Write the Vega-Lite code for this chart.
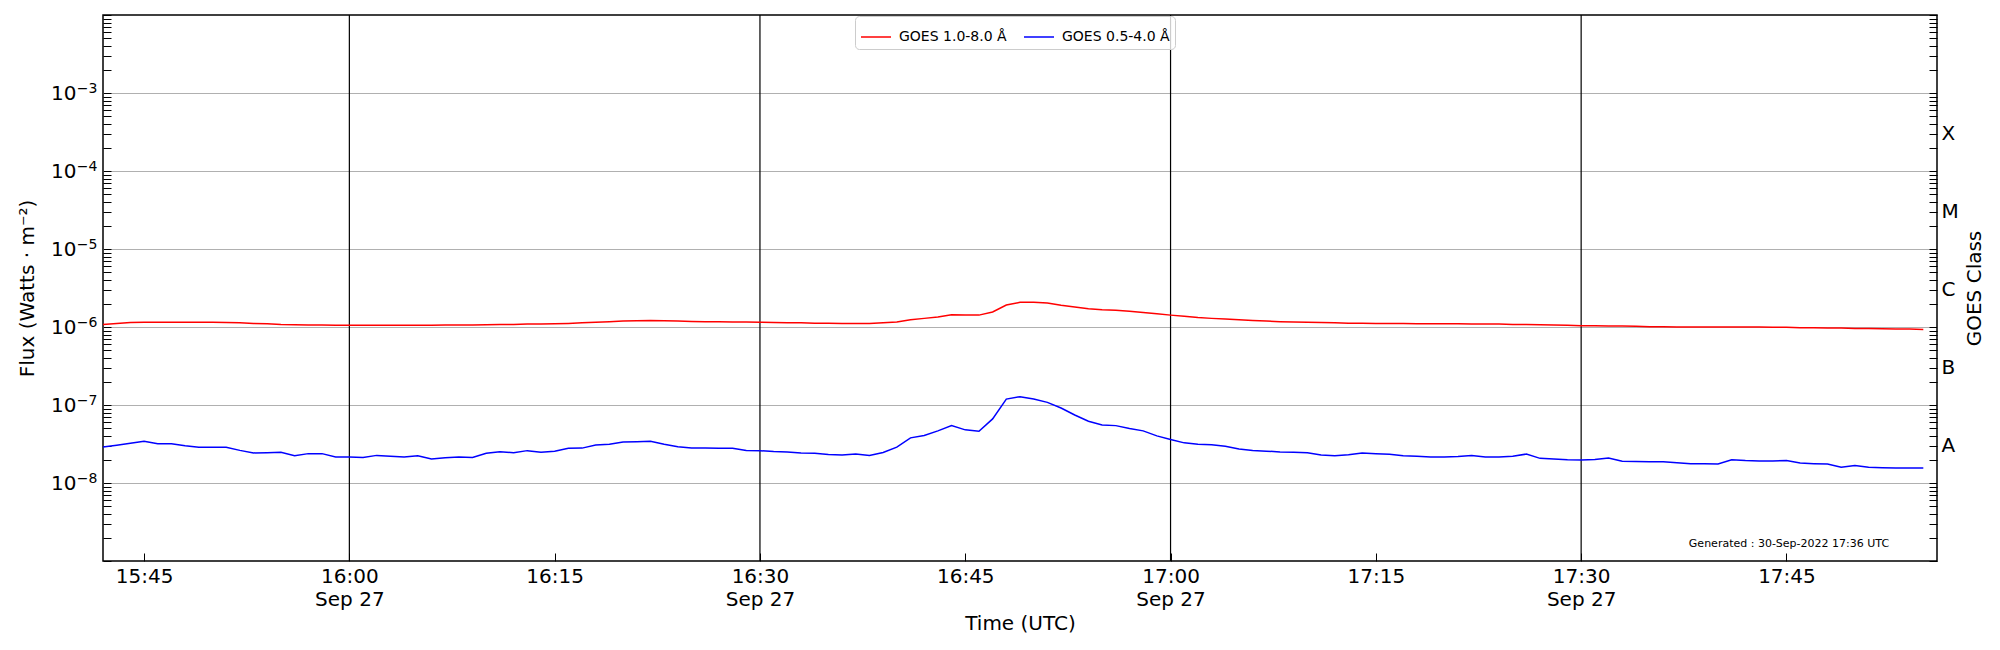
{
  "$schema": "https://vega.github.io/schema/vega-lite/v6.json",
  "width": 1834,
  "height": 546,
  "autosize": "none",
  "padding": {"left": 103, "top": 15, "right": 63, "bottom": 89},
  "background": "white",
  "config": {
    "font": "DejaVu Sans",
    "view": {"stroke": "black", "strokeWidth": 1.5},
    "axis": {"domain": false, "labelColor": "black", "titleColor": "black", "tickColor": "black", "titleFontWeight": "normal", "labelFont": "DejaVu Sans", "titleFont": "DejaVu Sans"}
  },
  "datasets": {
    "goes": [
      {"t":"2022-09-27T15:42:00Z","xrsb":1.08e-6,"xrsa":2.90e-8},
      {"t":"2022-09-27T15:43:00Z","xrsb":1.11e-6,"xrsa":3.05e-8},
      {"t":"2022-09-27T15:44:00Z","xrsb":1.14e-6,"xrsa":3.23e-8},
      {"t":"2022-09-27T15:45:00Z","xrsb":1.15e-6,"xrsa":3.42e-8},
      {"t":"2022-09-27T15:46:00Z","xrsb":1.15e-6,"xrsa":3.19e-8},
      {"t":"2022-09-27T15:47:00Z","xrsb":1.15e-6,"xrsa":3.19e-8},
      {"t":"2022-09-27T15:48:00Z","xrsb":1.15e-6,"xrsa":3.01e-8},
      {"t":"2022-09-27T15:49:00Z","xrsb":1.15e-6,"xrsa":2.87e-8},
      {"t":"2022-09-27T15:50:00Z","xrsb":1.15e-6,"xrsa":2.87e-8},
      {"t":"2022-09-27T15:51:00Z","xrsb":1.14e-6,"xrsa":2.87e-8},
      {"t":"2022-09-27T15:52:00Z","xrsb":1.13e-6,"xrsa":2.62e-8},
      {"t":"2022-09-27T15:53:00Z","xrsb":1.11e-6,"xrsa":2.43e-8},
      {"t":"2022-09-27T15:54:00Z","xrsb":1.10e-6,"xrsa":2.45e-8},
      {"t":"2022-09-27T15:55:00Z","xrsb":1.08e-6,"xrsa":2.48e-8},
      {"t":"2022-09-27T15:56:00Z","xrsb":1.07e-6,"xrsa":2.24e-8},
      {"t":"2022-09-27T15:57:00Z","xrsb":1.06e-6,"xrsa":2.38e-8},
      {"t":"2022-09-27T15:58:00Z","xrsb":1.06e-6,"xrsa":2.38e-8},
      {"t":"2022-09-27T15:59:00Z","xrsb":1.05e-6,"xrsa":2.16e-8},
      {"t":"2022-09-27T16:00:00Z","xrsb":1.05e-6,"xrsa":2.16e-8},
      {"t":"2022-09-27T16:01:00Z","xrsb":1.05e-6,"xrsa":2.13e-8},
      {"t":"2022-09-27T16:02:00Z","xrsb":1.05e-6,"xrsa":2.26e-8},
      {"t":"2022-09-27T16:03:00Z","xrsb":1.05e-6,"xrsa":2.20e-8},
      {"t":"2022-09-27T16:04:00Z","xrsb":1.05e-6,"xrsa":2.16e-8},
      {"t":"2022-09-27T16:05:00Z","xrsb":1.05e-6,"xrsa":2.24e-8},
      {"t":"2022-09-27T16:06:00Z","xrsb":1.05e-6,"xrsa":2.03e-8},
      {"t":"2022-09-27T16:07:00Z","xrsb":1.06e-6,"xrsa":2.10e-8},
      {"t":"2022-09-27T16:08:00Z","xrsb":1.06e-6,"xrsa":2.16e-8},
      {"t":"2022-09-27T16:09:00Z","xrsb":1.06e-6,"xrsa":2.12e-8},
      {"t":"2022-09-27T16:10:00Z","xrsb":1.07e-6,"xrsa":2.40e-8},
      {"t":"2022-09-27T16:11:00Z","xrsb":1.08e-6,"xrsa":2.52e-8},
      {"t":"2022-09-27T16:12:00Z","xrsb":1.08e-6,"xrsa":2.45e-8},
      {"t":"2022-09-27T16:13:00Z","xrsb":1.09e-6,"xrsa":2.60e-8},
      {"t":"2022-09-27T16:14:00Z","xrsb":1.09e-6,"xrsa":2.48e-8},
      {"t":"2022-09-27T16:15:00Z","xrsb":1.10e-6,"xrsa":2.55e-8},
      {"t":"2022-09-27T16:16:00Z","xrsb":1.11e-6,"xrsa":2.78e-8},
      {"t":"2022-09-27T16:17:00Z","xrsb":1.13e-6,"xrsa":2.80e-8},
      {"t":"2022-09-27T16:18:00Z","xrsb":1.15e-6,"xrsa":3.07e-8},
      {"t":"2022-09-27T16:19:00Z","xrsb":1.17e-6,"xrsa":3.13e-8},
      {"t":"2022-09-27T16:20:00Z","xrsb":1.19e-6,"xrsa":3.36e-8},
      {"t":"2022-09-27T16:21:00Z","xrsb":1.20e-6,"xrsa":3.39e-8},
      {"t":"2022-09-27T16:22:00Z","xrsb":1.21e-6,"xrsa":3.42e-8},
      {"t":"2022-09-27T16:23:00Z","xrsb":1.20e-6,"xrsa":3.13e-8},
      {"t":"2022-09-27T16:24:00Z","xrsb":1.19e-6,"xrsa":2.92e-8},
      {"t":"2022-09-27T16:25:00Z","xrsb":1.18e-6,"xrsa":2.82e-8},
      {"t":"2022-09-27T16:26:00Z","xrsb":1.17e-6,"xrsa":2.80e-8},
      {"t":"2022-09-27T16:27:00Z","xrsb":1.17e-6,"xrsa":2.78e-8},
      {"t":"2022-09-27T16:28:00Z","xrsb":1.16e-6,"xrsa":2.78e-8},
      {"t":"2022-09-27T16:29:00Z","xrsb":1.16e-6,"xrsa":2.61e-8},
      {"t":"2022-09-27T16:30:00Z","xrsb":1.15e-6,"xrsa":2.60e-8},
      {"t":"2022-09-27T16:31:00Z","xrsb":1.14e-6,"xrsa":2.53e-8},
      {"t":"2022-09-27T16:32:00Z","xrsb":1.13e-6,"xrsa":2.50e-8},
      {"t":"2022-09-27T16:33:00Z","xrsb":1.13e-6,"xrsa":2.42e-8},
      {"t":"2022-09-27T16:34:00Z","xrsb":1.12e-6,"xrsa":2.40e-8},
      {"t":"2022-09-27T16:35:00Z","xrsb":1.12e-6,"xrsa":2.32e-8},
      {"t":"2022-09-27T16:36:00Z","xrsb":1.11e-6,"xrsa":2.28e-8},
      {"t":"2022-09-27T16:37:00Z","xrsb":1.11e-6,"xrsa":2.35e-8},
      {"t":"2022-09-27T16:38:00Z","xrsb":1.11e-6,"xrsa":2.25e-8},
      {"t":"2022-09-27T16:39:00Z","xrsb":1.13e-6,"xrsa":2.46e-8},
      {"t":"2022-09-27T16:40:00Z","xrsb":1.16e-6,"xrsa":2.88e-8},
      {"t":"2022-09-27T16:41:00Z","xrsb":1.24e-6,"xrsa":3.79e-8},
      {"t":"2022-09-27T16:42:00Z","xrsb":1.29e-6,"xrsa":4.06e-8},
      {"t":"2022-09-27T16:43:00Z","xrsb":1.34e-6,"xrsa":4.66e-8},
      {"t":"2022-09-27T16:44:00Z","xrsb":1.44e-6,"xrsa":5.44e-8},
      {"t":"2022-09-27T16:45:00Z","xrsb":1.42e-6,"xrsa":4.80e-8},
      {"t":"2022-09-27T16:46:00Z","xrsb":1.42e-6,"xrsa":4.61e-8},
      {"t":"2022-09-27T16:47:00Z","xrsb":1.56e-6,"xrsa":6.63e-8},
      {"t":"2022-09-27T16:48:00Z","xrsb":1.91e-6,"xrsa":1.19e-7},
      {"t":"2022-09-27T16:49:00Z","xrsb":2.07e-6,"xrsa":1.28e-7},
      {"t":"2022-09-27T16:50:00Z","xrsb":2.07e-6,"xrsa":1.19e-7},
      {"t":"2022-09-27T16:51:00Z","xrsb":2.03e-6,"xrsa":1.08e-7},
      {"t":"2022-09-27T16:52:00Z","xrsb":1.90e-6,"xrsa":9.16e-8},
      {"t":"2022-09-27T16:53:00Z","xrsb":1.80e-6,"xrsa":7.45e-8},
      {"t":"2022-09-27T16:54:00Z","xrsb":1.72e-6,"xrsa":6.18e-8},
      {"t":"2022-09-27T16:55:00Z","xrsb":1.67e-6,"xrsa":5.56e-8},
      {"t":"2022-09-27T16:56:00Z","xrsb":1.64e-6,"xrsa":5.44e-8},
      {"t":"2022-09-27T16:57:00Z","xrsb":1.59e-6,"xrsa":4.99e-8},
      {"t":"2022-09-27T16:58:00Z","xrsb":1.53e-6,"xrsa":4.66e-8},
      {"t":"2022-09-27T16:59:00Z","xrsb":1.48e-6,"xrsa":4.02e-8},
      {"t":"2022-09-27T17:00:00Z","xrsb":1.42e-6,"xrsa":3.61e-8},
      {"t":"2022-09-27T17:01:00Z","xrsb":1.37e-6,"xrsa":3.27e-8},
      {"t":"2022-09-27T17:02:00Z","xrsb":1.32e-6,"xrsa":3.15e-8},
      {"t":"2022-09-27T17:03:00Z","xrsb":1.29e-6,"xrsa":3.10e-8},
      {"t":"2022-09-27T17:04:00Z","xrsb":1.27e-6,"xrsa":2.96e-8},
      {"t":"2022-09-27T17:05:00Z","xrsb":1.24e-6,"xrsa":2.72e-8},
      {"t":"2022-09-27T17:06:00Z","xrsb":1.21e-6,"xrsa":2.61e-8},
      {"t":"2022-09-27T17:07:00Z","xrsb":1.19e-6,"xrsa":2.56e-8},
      {"t":"2022-09-27T17:08:00Z","xrsb":1.17e-6,"xrsa":2.50e-8},
      {"t":"2022-09-27T17:09:00Z","xrsb":1.16e-6,"xrsa":2.47e-8},
      {"t":"2022-09-27T17:10:00Z","xrsb":1.15e-6,"xrsa":2.45e-8},
      {"t":"2022-09-27T17:11:00Z","xrsb":1.14e-6,"xrsa":2.29e-8},
      {"t":"2022-09-27T17:12:00Z","xrsb":1.13e-6,"xrsa":2.24e-8},
      {"t":"2022-09-27T17:13:00Z","xrsb":1.12e-6,"xrsa":2.30e-8},
      {"t":"2022-09-27T17:14:00Z","xrsb":1.12e-6,"xrsa":2.43e-8},
      {"t":"2022-09-27T17:15:00Z","xrsb":1.11e-6,"xrsa":2.38e-8},
      {"t":"2022-09-27T17:16:00Z","xrsb":1.11e-6,"xrsa":2.33e-8},
      {"t":"2022-09-27T17:17:00Z","xrsb":1.11e-6,"xrsa":2.24e-8},
      {"t":"2022-09-27T17:18:00Z","xrsb":1.10e-6,"xrsa":2.20e-8},
      {"t":"2022-09-27T17:19:00Z","xrsb":1.10e-6,"xrsa":2.16e-8},
      {"t":"2022-09-27T17:20:00Z","xrsb":1.10e-6,"xrsa":2.16e-8},
      {"t":"2022-09-27T17:21:00Z","xrsb":1.10e-6,"xrsa":2.18e-8},
      {"t":"2022-09-27T17:22:00Z","xrsb":1.09e-6,"xrsa":2.26e-8},
      {"t":"2022-09-27T17:23:00Z","xrsb":1.09e-6,"xrsa":2.16e-8},
      {"t":"2022-09-27T17:24:00Z","xrsb":1.09e-6,"xrsa":2.16e-8},
      {"t":"2022-09-27T17:25:00Z","xrsb":1.08e-6,"xrsa":2.20e-8},
      {"t":"2022-09-27T17:26:00Z","xrsb":1.08e-6,"xrsa":2.35e-8},
      {"t":"2022-09-27T17:27:00Z","xrsb":1.07e-6,"xrsa":2.07e-8},
      {"t":"2022-09-27T17:28:00Z","xrsb":1.06e-6,"xrsa":2.03e-8},
      {"t":"2022-09-27T17:29:00Z","xrsb":1.05e-6,"xrsa":1.99e-8},
      {"t":"2022-09-27T17:30:00Z","xrsb":1.04e-6,"xrsa":1.97e-8},
      {"t":"2022-09-27T17:31:00Z","xrsb":1.04e-6,"xrsa":2.00e-8},
      {"t":"2022-09-27T17:32:00Z","xrsb":1.03e-6,"xrsa":2.09e-8},
      {"t":"2022-09-27T17:33:00Z","xrsb":1.03e-6,"xrsa":1.90e-8},
      {"t":"2022-09-27T17:34:00Z","xrsb":1.02e-6,"xrsa":1.88e-8},
      {"t":"2022-09-27T17:35:00Z","xrsb":1.01e-6,"xrsa":1.87e-8},
      {"t":"2022-09-27T17:36:00Z","xrsb":1.01e-6,"xrsa":1.87e-8},
      {"t":"2022-09-27T17:37:00Z","xrsb":1.00e-6,"xrsa":1.82e-8},
      {"t":"2022-09-27T17:38:00Z","xrsb":1.00e-6,"xrsa":1.77e-8},
      {"t":"2022-09-27T17:39:00Z","xrsb":1.00e-6,"xrsa":1.77e-8},
      {"t":"2022-09-27T17:40:00Z","xrsb":1.00e-6,"xrsa":1.75e-8},
      {"t":"2022-09-27T17:41:00Z","xrsb":1.00e-6,"xrsa":1.99e-8},
      {"t":"2022-09-27T17:42:00Z","xrsb":1.00e-6,"xrsa":1.94e-8},
      {"t":"2022-09-27T17:43:00Z","xrsb":1.00e-6,"xrsa":1.92e-8},
      {"t":"2022-09-27T17:44:00Z","xrsb":0.99e-6,"xrsa":1.92e-8},
      {"t":"2022-09-27T17:45:00Z","xrsb":0.99e-6,"xrsa":1.94e-8},
      {"t":"2022-09-27T17:46:00Z","xrsb":0.98e-6,"xrsa":1.80e-8},
      {"t":"2022-09-27T17:47:00Z","xrsb":0.98e-6,"xrsa":1.77e-8},
      {"t":"2022-09-27T17:48:00Z","xrsb":0.97e-6,"xrsa":1.75e-8},
      {"t":"2022-09-27T17:49:00Z","xrsb":0.97e-6,"xrsa":1.59e-8},
      {"t":"2022-09-27T17:50:00Z","xrsb":0.96e-6,"xrsa":1.68e-8},
      {"t":"2022-09-27T17:51:00Z","xrsb":0.96e-6,"xrsa":1.59e-8},
      {"t":"2022-09-27T17:52:00Z","xrsb":0.95e-6,"xrsa":1.57e-8},
      {"t":"2022-09-27T17:53:00Z","xrsb":0.94e-6,"xrsa":1.56e-8},
      {"t":"2022-09-27T17:54:00Z","xrsb":0.94e-6,"xrsa":1.56e-8},
      {"t":"2022-09-27T17:55:00Z","xrsb":0.93e-6,"xrsa":1.56e-8}
    ],
    "vlines": [
      {"t":"2022-09-27T16:00:00Z"},
      {"t":"2022-09-27T16:30:00Z"},
      {"t":"2022-09-27T17:00:00Z"},
      {"t":"2022-09-27T17:30:00Z"}
    ],
    "note": [
      {"t":"2022-09-27T17:45:11Z","flux":1.66e-9,"label":"Generated : 30-Sep-2022 17:36 UTC"}
    ]
  },
  "encoding": {
    "x": {"field": "t", "type": "temporal",
          "scale": {"type": "utc", "domain": [{"year":2022,"month":9,"date":27,"hours":15,"minutes":42,"utc":true},{"year":2022,"month":9,"date":27,"hours":17,"minutes":56,"utc":true}]},
          "axis": {
            "title": "Time (UTC)", "titleFontSize": 20, "titlePadding": 4,
            "values": [
              {"year":2022,"month":9,"date":27,"hours":15,"minutes":45,"utc":true},
              {"year":2022,"month":9,"date":27,"hours":16,"minutes":0,"utc":true},
              {"year":2022,"month":9,"date":27,"hours":16,"minutes":15,"utc":true},
              {"year":2022,"month":9,"date":27,"hours":16,"minutes":30,"utc":true},
              {"year":2022,"month":9,"date":27,"hours":16,"minutes":45,"utc":true},
              {"year":2022,"month":9,"date":27,"hours":17,"minutes":0,"utc":true},
              {"year":2022,"month":9,"date":27,"hours":17,"minutes":15,"utc":true},
              {"year":2022,"month":9,"date":27,"hours":17,"minutes":30,"utc":true},
              {"year":2022,"month":9,"date":27,"hours":17,"minutes":45,"utc":true}
            ],
            "labelExpr": "utcminutes(datum.value) % 30 == 0 ? [utcFormat(datum.value, '%H:%M'), 'Sep 27'] : utcFormat(datum.value, '%H:%M')",
            "labelFontSize": 20, "labelLineHeight": 23, "labelPadding": 13,
            "tickSize": -8, "tickWidth": 1, "grid": false, "labelFlush": false, "labelOverlap": false
          }}
  },
  "layer": [
    {
      "data": {"name": "vlines"},
      "mark": {"type": "rule", "color": "black", "strokeWidth": 1.2},
      "encoding": {}
    },
    {
      "data": {"name": "goes"},
      "transform": [{"fold": ["xrsb", "xrsa"], "as": ["ch", "flux"]}],
      "mark": {"type": "line", "strokeWidth": 1.5, "clip": true},
      "encoding": {
        "y": {"field": "flux", "type": "quantitative",
              "scale": {"type": "log", "domain": [1e-9, 1e-2]},
              "axis": {
                "orient": "left",
                "title": "Flux (Watts · m⁻²)", "titleFontSize": 20, "titlePadding": 13,
                "values": [1e-9,2e-9,3e-9,4e-9,5e-9,6e-9,7e-9,8e-9,9e-9,1e-8,2e-8,3e-8,4e-8,5e-8,6e-8,7e-8,8e-8,9e-8,1e-7,2e-7,3e-7,4e-7,5e-7,6e-7,7e-7,8e-7,9e-7,1e-6,2e-6,3e-6,4e-6,5e-6,6e-6,7e-6,8e-6,9e-6,1e-5,2e-5,3e-5,4e-5,5e-5,6e-5,7e-5,8e-5,9e-5,1e-4,2e-4,3e-4,4e-4,5e-4,6e-4,7e-4,8e-4,9e-4,1e-3,2e-3,3e-3,4e-3,5e-3,6e-3,7e-3,8e-3,9e-3,1e-2],
                "labelExpr": "(round(datum.value / pow(10, floor(log(datum.value) / LN10 + 0.001))) == 1 && datum.value > 5e-9 && datum.value < 5e-3) ? '10' : ''",
                "labelFontSize": 20, "labelPadding": 35, "labelOverlap": false, "labelFlush": false, "labelBaseline": "middle",
                "tickSize": -8, "tickWidth": 1,
                "grid": true, "gridColor": "#b0b0b0", "gridWidth": 1,
                "gridOpacity": {"condition": {"test": "round(datum.value / pow(10, floor(log(datum.value) / LN10 + 0.001))) == 1 && datum.value > 5e-9 && datum.value < 5e-3", "value": 1}, "value": 0}
              }},
        "color": {"field": "ch", "type": "nominal",
                  "scale": {"domain": ["xrsb", "xrsa"], "range": ["#ff0000", "#0000ff"]},
                  "legend": {
                    "title": null, "orient": "none", "legendX": 752, "legendY": 1,
                    "direction": "horizontal", "columns": 2, "columnPadding": 14,
                    "labelExpr": "datum.value == 'xrsb' ? 'GOES 1.0-8.0 Å' : 'GOES 0.5-4.0 Å'",
                    "labelFontSize": 14, "labelFont": "DejaVu Sans", "labelColor": "black", "labelOffset": 7,
                    "symbolType": "stroke", "symbolSize": 900, "symbolStrokeWidth": 1.5,
                    "padding": 5, "strokeColor": "#cccccc", "fillColor": "rgba(255,255,255,0.8)", "cornerRadius": 4
                  }}
      }
    },
    {
      "data": {"name": "note"},
      "mark": {"type": "point", "opacity": 0},
      "encoding": {
        "y": {"field": "flux", "type": "quantitative",
              "scale": {"type": "log", "domain": [1e-9, 1e-2]},
              "axis": {
                "orient": "left", "title": null,
                "values": [1e-8,1e-7,1e-6,1e-5,1e-4,1e-3],
                "labelExpr": "'−' + ['', '', '', '3', '4', '5', '6', '7', '8', '9'][-floor(log(datum.value) / LN10 + 0.001)]",
                "labelFontSize": 14, "labelPadding": 6, "labelOffset": -5, "labelBaseline": "middle",
                "labelOverlap": false, "labelFlush": false, "ticks": false, "grid": false
              }}
      }
    },
    {
      "data": {"name": "note"},
      "mark": {"type": "text", "fontSize": 11, "font": "DejaVu Sans", "align": "center", "baseline": "middle", "color": "black"},
      "encoding": {
        "y": {"field": "flux", "type": "quantitative",
              "scale": {"type": "log", "domain": [1e-9, 1e-2]},
              "axis": {
                "orient": "right",
                "title": "GOES Class", "titleFontSize": 20, "titleAngle": -90, "titleBaseline": "top", "titlePadding": 6,
                "values": [1e-9,2e-9,3e-9,4e-9,5e-9,6e-9,7e-9,8e-9,9e-9,1e-8,2e-8,3e-8,4e-8,5e-8,6e-8,7e-8,8e-8,9e-8,1e-7,2e-7,3e-7,4e-7,5e-7,6e-7,7e-7,8e-7,9e-7,1e-6,2e-6,3e-6,4e-6,5e-6,6e-6,7e-6,8e-6,9e-6,1e-5,2e-5,3e-5,4e-5,5e-5,6e-5,7e-5,8e-5,9e-5,1e-4,2e-4,3e-4,4e-4,5e-4,6e-4,7e-4,8e-4,9e-4,1e-3,2e-3,3e-3,4e-3,5e-3,6e-3,7e-3,8e-3,9e-3,1e-2],
                "labelExpr": "(round(datum.value / pow(10, floor(log(datum.value) / LN10 + 0.001))) == 3 && datum.value > 1e-8 && datum.value < 1e-3) ? ['A', 'B', 'C', 'M', 'X'][floor(log(datum.value) / LN10 + 0.001) + 8] : ''",
                "labelFontSize": 20, "labelPadding": 12, "labelOverlap": false, "labelFlush": false,
                "tickSize": -8, "tickWidth": 1, "grid": false
              }},
        "text": {"field": "label", "type": "nominal"}
      }
    }
  ],
  "resolve": {"axis": {"y": "independent"}}
}
